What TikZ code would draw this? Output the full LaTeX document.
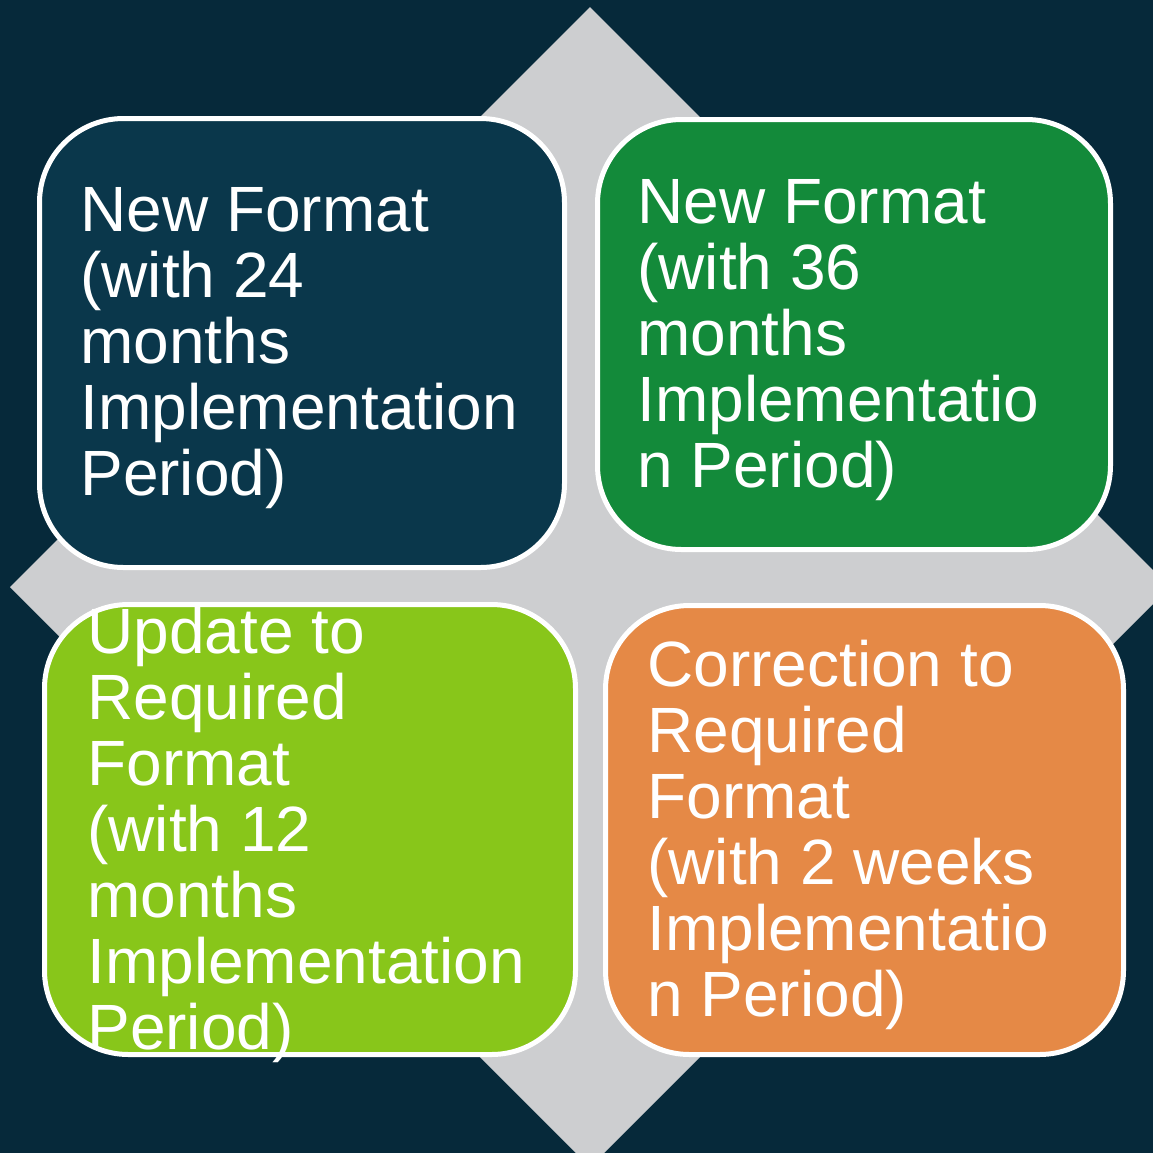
\documentclass[tikz,border=0pt]{standalone}
\usepackage{fontspec}
\setmainfont{Liberation Sans}
\definecolor{bgnavy}{HTML}{06293A}
\definecolor{diamondgrey}{HTML}{CDCED0}
\definecolor{boxnavy}{HTML}{0A374B}
\definecolor{boxgreen}{HTML}{138A3A}
\definecolor{boxlime}{HTML}{88C61A}
\definecolor{boxorange}{HTML}{E58946}

\begin{document}
\begin{tikzpicture}[x=0.5pt, y=-0.5pt,
	quadbox/.style={draw=white, line width=2.5pt, rounded corners=42pt},
	quadtext/.style={anchor=base west, inner sep=0pt, align=left, text=white,
		font=\fontsize{32}{33}\selectfont}]
		\clip (0,0) rectangle (1153,1153);
		\fill [bgnavy] (0,0) rectangle (1153,1153);
		\fill [diamondgrey] (590,7) -- (1170,587) -- (590,1167) -- (10,587) -- cycle;
		\filldraw [quadbox, fill=boxnavy] (39.5,118.5) rectangle (564.5,567.5);
		\filldraw [quadbox, fill=boxgreen] (597.5,119.5) rectangle (1110.5,549.5);
		\filldraw [quadbox, fill=boxlime] (44.5,604.5) rectangle (575.5,1054.5);
		\filldraw [quadbox, fill=boxorange] (605.5,605.5) rectangle (1123.5,1054.5);
		% anchors sit on the last line
		\node [quadtext] (newtwentyfour) at (80,495) {New Format\\(with 24\\months\\Implementation\\Period)};
		\node [quadtext] (newthirtysix) at (637,487) {New Format\\(with 36\\months\\Implementatio\\n Period)};
		\node [quadtext] (updatetwelve) at (87,1049) {Update to\\Required\\Format\\(with 12\\months\\Implementation\\Period)};
		\node [quadtext] (correctweeks) at (647,1016) {Correction to\\Required\\Format\\(with 2 weeks\\Implementatio\\n Period)};
	\end{tikzpicture}
\end{document}
